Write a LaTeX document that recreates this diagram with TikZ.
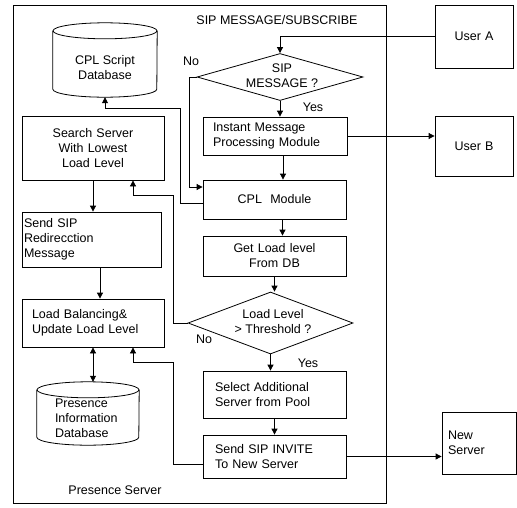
\documentclass[tikz,border=0pt]{standalone}
\usepackage{fontspec}
\setmainfont{Liberation Sans}
\usetikzlibrary{shapes.geometric, arrows.meta, calc}
\newcommand{\figfont}{\fontsize{12.5}{15}\selectfont}

\tikzset{
  plain/.style={font=\figfont, inner sep=0pt},
  frame/.style={draw, line width=0.8pt, inner sep=0pt},
  procbox/.style={draw, rectangle, line width=0.8pt, font=\figfont, inner xsep=2pt, inner ysep=0pt},
  decision/.style={draw, diamond, line width=0.8pt, inner sep=0pt},
  dbcyl/.style={rectangle, inner sep=0pt},
  dbline/.style={line width=0.8pt},
  arr/.style={line width=0.8pt, -{Triangle[length=6pt, width=6pt]}},
  arrboth/.style={line width=0.8pt, {Triangle[length=6pt, width=6pt]}-{Triangle[length=6pt, width=6pt]}}
}

\begin{document}
\begin{tikzpicture}[x=1pt, y=-1pt]
    \useasboundingbox (0,0) rectangle (517,507);

    \node[frame, minimum width=373, minimum height=498] (presence) at (199.5,254) {};
    \node[plain] (sipsub) at (277,20) {SIP MESSAGE/SUBSCRIBE};
    \node[plain] (presname) at (115,490) {Presence Server};

    \node[procbox, minimum width=78, minimum height=63, text width=74, align=center] (usera) at (474,36.5) {User A};
    \node[procbox, minimum width=78, minimum height=60, text width=74, align=center] (userb) at (474,146) {User B};
    \node[procbox, minimum width=74, minimum height=62, inner xsep=6pt, text width=62, align=left] (newsrv) at (479,443) {New\\Server};

    \node[decision, minimum width=166, minimum height=47] (sipd) at (280,77) {};
    \node[plain, align=center] (siptxt) at (282,76) {SIP\\MESSAGE ?};
    \node[procbox, minimum width=144, minimum height=38, inner xsep=10pt, text width=124, align=left] (imbox) at (275,136) {Instant Message\\Processing Module};
    \node[procbox, minimum width=143, minimum height=39, text width=139, align=center] (cplmod) at (274.5,199.5) {CPL\ \ Module};
    \node[procbox, minimum width=143, minimum height=40, text width=139, align=center] (getload) at (274.5,256) {Get Load level\\From DB};
    \node[decision, minimum width=165, minimum height=62] (loadd) at (270.5,323) {};
    \node[plain, align=center] (loadtxt) at (273,322) {Load Level\\> Threshold ?};
    \node[procbox, minimum width=143, minimum height=47, inner xsep=12pt, text width=119, align=left] (select) at (274.5,394.5) {Select Additional\\Server from Pool};
    \node[procbox, minimum width=143, minimum height=43, inner xsep=12pt, text width=119, align=left] (invite) at (274.5,456.5) {Send SIP INVITE\\To New Server};

    \node[dbcyl, minimum width=104, minimum height=74] (cpldb) at (105,60) {};
    \draw[dbline] ([yshift=-8pt]cpldb.north) ellipse [x radius=52pt, y radius=8pt];
    \draw[dbline] ([yshift=-8pt]cpldb.north west) -- ([yshift=8pt]cpldb.south west)
        arc[start angle=180, end angle=360, x radius=52pt, y radius=8pt] -- ([yshift=-8pt]cpldb.north east);
    \node[plain, align=center] (cpldbtxt) at (105,68) {CPL Script\\Database};

    \node[procbox, minimum width=142, minimum height=64, text width=138, align=center] (search) at (93,148) {Search Server\\With Lowest\\Load Level};
    \node[procbox, minimum width=139, minimum height=55, text width=135, align=left] (redirect) at (91.5,239.5) {Send SIP\\Redirecction\\Message};
    \node[procbox, minimum width=142, minimum height=48, inner xsep=10pt, text width=122, align=left] (loadbal) at (93,323) {Load Balancing\&\\Update Load Level};

    \node[dbcyl, minimum width=102, minimum height=63] (presdb) at (88,413.5) {};
    \draw[dbline] ([yshift=-8pt]presdb.north) ellipse [x radius=51pt, y radius=8pt];
    \draw[dbline] ([yshift=-8pt]presdb.north west) -- ([yshift=8pt]presdb.south west)
        arc[start angle=180, end angle=360, x radius=51pt, y radius=8pt] -- ([yshift=-8pt]presdb.north east);
    \node[plain, text width=72, align=left] (presdbtxt) at (91,418) {Presence\\Information\\Database};

    \node[plain] (no1) at (191,61) {No};
    \node[plain] (yes1) at (313,107) {Yes};
    \node[plain] (no2) at (204,339) {No};
    \node[plain] (yes2) at (308,363) {Yes};

    \draw[arr] (usera.west) -| (sipd.north);
    \draw[arr] (sipd.south) -- (sipd.south |- imbox.north);
    \draw[arr] (sipd.west) -| (189,187) -- ([yshift=12.5pt]cplmod.west);
    \draw[arr] (imbox.east) -- (imbox.east -| userb.west);
    \draw[arr] ([xshift=8pt]imbox.south) -- ([xshift=8pt]imbox.south |- cplmod.north);
    \draw[arr] ([yshift=-3.5pt]cplmod.west) -| (180,108) -| (cpldb.south);
    \draw[arr] ([xshift=8pt]cplmod.south) -- ([xshift=8pt]cplmod.south |- getload.north);
    \draw[arr] (getload.south) -- (getload.south |- loadd.north);
    \draw[arr] (loadd.west) -| (173,195) -| ([xshift=40pt]search.south);
    \draw[arr] (loadd.south) -- (loadd.south |- select.north);
    \draw[arr] (select.south) -- (select.south |- invite.north);
    \draw[arr] (invite.east) -- (invite.east -| newsrv.west);
    \draw[arr] ([yshift=-8pt]invite.west) -| (173,362) -| ([xshift=40pt]loadbal.south);
    \draw[arr] (search.south) -- (search.south |- redirect.north);
    \draw[arr] ([xshift=8.5pt]redirect.south) -- ([xshift=8.5pt]redirect.south |- loadbal.north);
    \draw[arrboth] (loadbal.south) -- (loadbal.south |- presdb.north);
\end{tikzpicture}
\end{document}
